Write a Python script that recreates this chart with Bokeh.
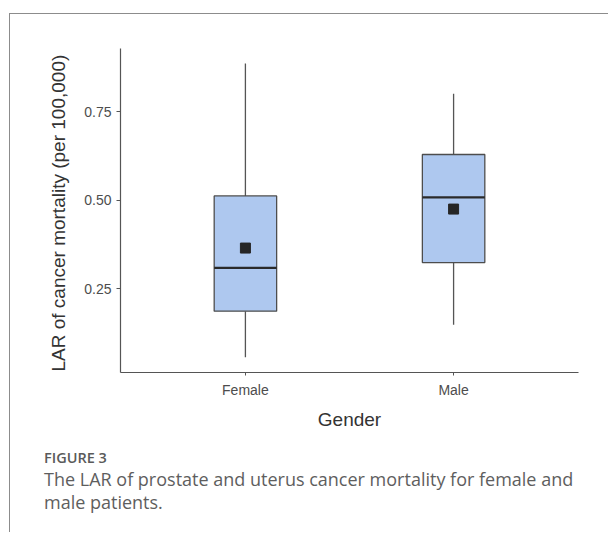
from bokeh.plotting import figure
from bokeh.models import FactorRange, Range1d, FixedTicker, ColumnDataSource, Div
from bokeh.layouts import column
from bokeh.transform import dodge
from bokeh.embed import file_html
from bokeh.resources import INLINE

# ---- data ----
genders = ["Female", "Male"]
whisker_low = [0.057, 0.149]
q1 = [0.187, 0.324]
median = [0.309, 0.508]
q3 = [0.512, 0.629]
whisker_high = [0.886, 0.800]
mean = [0.365, 0.475]
y_ticks = [0.25, 0.50, 0.75]
caption_lines = ["FIGURE 3",
                 "The LAR of prostate and uterus cancer mortality for female and",
                 "male patients."]

src = ColumnDataSource(dict(g=genders, lo=whisker_low, q1=q1, med=median,
                            q3=q3, hi=whisker_high, mean=mean))

W, H = 598, 418
p = figure(width=W, height=H, output_backend="svg", toolbar_location=None,
           x_range=FactorRange(*genders, range_padding=0.1, range_padding_units="absolute"),
           y_range=Range1d(0.014, 0.928),
           min_border_left=110, min_border_right=30, min_border_top=34, min_border_bottom=60)
p.outline_line_color = None
p.background_fill_color = "white"
p.border_fill_color = "white"
p.grid.visible = False

box_w = 0.3
line_col = "#555555"
# whiskers
p.segment(x0="g", y0="q3", x1="g", y1="hi", source=src, line_color=line_col, line_width=1.3)
p.segment(x0="g", y0="lo", x1="g", y1="q1", source=src, line_color=line_col, line_width=1.3)
# boxes
p.vbar(x="g", bottom="q1", top="q3", width=box_w, source=src,
       fill_color="#aec8ef", line_color="#4d4d4d", line_width=1.3)
# median
p.segment(x0=dodge("g", -box_w / 2, range=p.x_range), y0="med",
          x1=dodge("g", box_w / 2, range=p.x_range), y1="med",
          source=src, line_color="#2a2a2a", line_width=2.2)
# mean
p.scatter(x="g", y="mean", source=src, marker="square", size=10,
          fill_color="#262626", line_color="#262626")

# axes
for ax in (p.xaxis[0], p.yaxis[0]):
    ax.axis_line_color = "#555555"
    ax.axis_line_width = 1.2
    ax.major_tick_line_color = "#555555"
    ax.major_tick_in = 0
    ax.minor_tick_line_color = None
    ax.major_label_text_font = "Liberation Sans"
    ax.major_label_text_font_size = "14px"
    ax.major_label_text_color = "#4d4d4d"
    ax.axis_label_text_font = "Liberation Sans"
    ax.axis_label_text_font_size = "19px"
    ax.axis_label_text_font_style = "normal"
    ax.axis_label_text_color = "#333333"

p.yaxis[0].ticker = FixedTicker(ticks=y_ticks)
p.yaxis[0].major_tick_out = 4
p.yaxis[0].major_label_overrides = {t: f"{t:.2f}" for t in y_ticks}
p.yaxis[0].axis_label = "LAR of cancer mortality  (per 100,000)"
p.yaxis[0].axis_label_standoff = 12
p.xaxis[0].major_tick_out = 3
p.xaxis[0].major_label_standoff = 6
p.xaxis[0].axis_label = "Gender"
p.xaxis[0].axis_label_standoff = 8

# caption
cap_html = (
    '<div style="font-family:\'Open Sans\';color:#5e5e5e;padding:16px 0 0 34px;white-space:nowrap;">'
    f'<div style="font-size:14.5px;font-weight:600;line-height:20px;color:#5a5a5a;">{caption_lines[0]}</div>'
    f'<div style="font-size:18px;line-height:23px;">{caption_lines[1]}<br>{caption_lines[2]}</div>'
    '</div>'
)
cap = Div(text=cap_html, width=W, height=100, margin=0)

lay = column(p, cap, spacing=0)
lay.styles = {"margin-top": "13px", "margin-left": "9px",
              "border-top": "1.5px solid #8c8c8c", "border-left": "1.5px solid #8c8c8c"}

open("out.html", "w").write(file_html(lay, INLINE))
